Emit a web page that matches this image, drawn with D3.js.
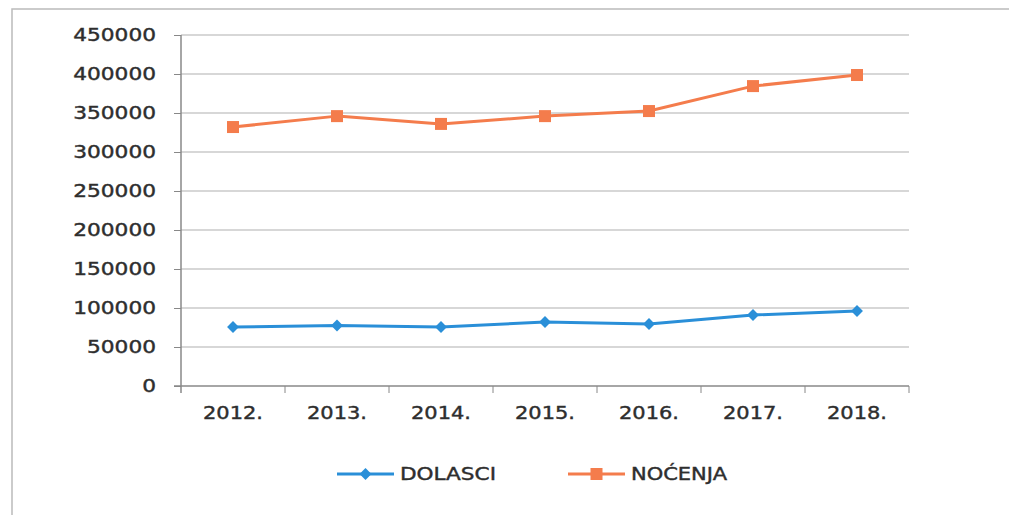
<!DOCTYPE html>
<html>
<head>
<meta charset="utf-8">
<script src="https://cdn.jsdelivr.net/npm/d3@7"></script>
<style>
body { margin: 0; background: #fff; }
text { font-family: "DejaVu Sans", sans-serif; fill: #2e2e2e; stroke: #2e2e2e; stroke-width: 0.4px; }
</style>
</head>
<body>
<svg class="chart" width="1009" height="515"></svg>
<script>
var years = ["2012.", "2013.", "2014.", "2015.", "2016.", "2017.", "2018."];
var dolasci = [75600, 77500, 75600, 82000, 79500, 91000, 96200];
var nocenja = [332000, 346000, 336000, 346000, 352500, 384500, 398700];
var yTicks = [0, 50000, 100000, 150000, 200000, 250000, 300000, 350000, 400000, 450000];

var blue = "#2a8fd8",
	orange = "#f47c4c",
	gridcolor = "#b0b0b0",
	axiscolor = "#888";

var svg = d3.select(".chart"),
	margin = { top: 35, right: 100, bottom: 129, left: 181 },
	width = +svg.attr("width") - margin.left - margin.right,
	height = +svg.attr("height") - margin.top - margin.bottom;

// outer frame (only left and top edges visible in the scan)
svg.append("path")
	.attr("d", "M12,515V9H1009")
	.attr("fill", "none")
	.attr("stroke", "#bbb")
	.attr("stroke-width", 1.5);

var g = svg.append("g").attr("transform", "translate(" + margin.left + "," + margin.top + ")");

var x = d3.scaleBand().domain(years).range([0, width]);
var y = d3.scaleLinear().domain([0, 450000]).range([height, 0]);

g.append("g")
	.selectAll("line")
	.data(yTicks.slice(1))
	.enter().append("line")
	.attr("x1", 0)
	.attr("x2", width)
	.attr("y1", function(d) { return y(d); })
	.attr("y2", function(d) { return y(d); })
	.attr("stroke", gridcolor)
	.attr("stroke-width", 1.2);

var fmt = d3.format("d");
var left = g.append("g")
	.call(d3.axisLeft(y).tickValues(yTicks).tickSize(7).tickPadding(18).tickFormat(fmt));
left.selectAll("path").style("stroke", axiscolor).style("stroke-width", 1.5);
left.selectAll("line").style("stroke", axiscolor);
left.selectAll("text")
	.style("font-size", "17px")
	.style("fill", "#2e2e2e")
	.attr("textLength", function(d) { return fmt(d).length * 13.8; })
	.attr("lengthAdjust", "spacingAndGlyphs");
left.select(".domain").attr("d", "M0," + (height + 7) + "V0");

var bottom = g.append("g")
	.attr("transform", "translate(0," + height + ")");
bottom.append("line")
	.attr("x1", -7).attr("x2", width)
	.attr("stroke", axiscolor).attr("stroke-width", 1.5);
bottom.selectAll("line.tick")
	.data(years)
	.enter().append("line")
	.attr("class", "tick")
	.attr("x1", function(d) { return x(d) + x.bandwidth(); })
	.attr("x2", function(d) { return x(d) + x.bandwidth(); })
	.attr("y1", 0).attr("y2", 7)
	.attr("stroke", axiscolor);
bottom.selectAll("text")
	.data(years)
	.enter().append("text")
	.attr("x", function(d) { return x(d) + x.bandwidth() / 2 - 30; })
	.attr("y", 33)
	.style("font-size", "17px")
	.attr("textLength", 60)
	.attr("lengthAdjust", "spacingAndGlyphs")
	.text(function(d) { return d; });

var line = d3.line()
	.x(function(d, i) { return x(years[i]) + x.bandwidth() / 2; })
	.y(function(d) { return y(d); });

g.append("path")
	.datum(dolasci)
	.attr("fill", "none")
	.attr("stroke", blue)
	.attr("stroke-width", 3)
	.attr("stroke-linejoin", "round")
	.attr("d", line);
g.selectAll(".dmark")
	.data(dolasci)
	.enter().append("path")
	.attr("class", "dmark")
	.attr("transform", function(d, i) { return "translate(" + (x(years[i]) + x.bandwidth() / 2) + "," + y(d) + ")"; })
	.attr("d", d3.symbol().type(d3.symbolDiamond2).size(90))
	.attr("fill", blue);

g.append("path")
	.datum(nocenja)
	.attr("fill", "none")
	.attr("stroke", orange)
	.attr("stroke-width", 3)
	.attr("stroke-linejoin", "round")
	.attr("d", line);
g.selectAll(".nmark")
	.data(nocenja)
	.enter().append("rect")
	.attr("class", "nmark")
	.attr("x", function(d, i) { return x(years[i]) + x.bandwidth() / 2 - 6; })
	.attr("y", function(d) { return y(d) - 6; })
	.attr("width", 12)
	.attr("height", 12)
	.attr("fill", orange);

// legend
var legend = [
	{ name: "DOLASCI", color: blue, x: 337 },
	{ name: "NOĆENJA", color: orange, x: 568 }
];
var lg = svg.selectAll(".legend")
	.data(legend)
	.enter().append("g")
	.attr("class", "legend")
	.attr("transform", function(d) { return "translate(" + d.x + ",474)"; });
lg.append("line")
	.attr("x1", 0).attr("x2", 57)
	.attr("stroke", function(d) { return d.color; })
	.attr("stroke-width", 3);
lg.each(function(d) {
	var s = d3.select(this);
	if (d.name == "DOLASCI") {
		s.append("path")
			.attr("transform", "translate(28.5,0)")
			.attr("d", d3.symbol().type(d3.symbolDiamond2).size(90))
			.attr("fill", d.color);
	} else {
		s.append("rect")
			.attr("x", 22.5).attr("y", -6)
			.attr("width", 12).attr("height", 12)
			.attr("fill", d.color);
	}
});
lg.append("text")
	.attr("x", 63)
	.attr("dy", "0.35em")
	.style("font-size", "17px")
	.attr("textLength", 96)
	.attr("lengthAdjust", "spacingAndGlyphs")
	.text(function(d) { return d.name; });
</script>
</body>
</html>
